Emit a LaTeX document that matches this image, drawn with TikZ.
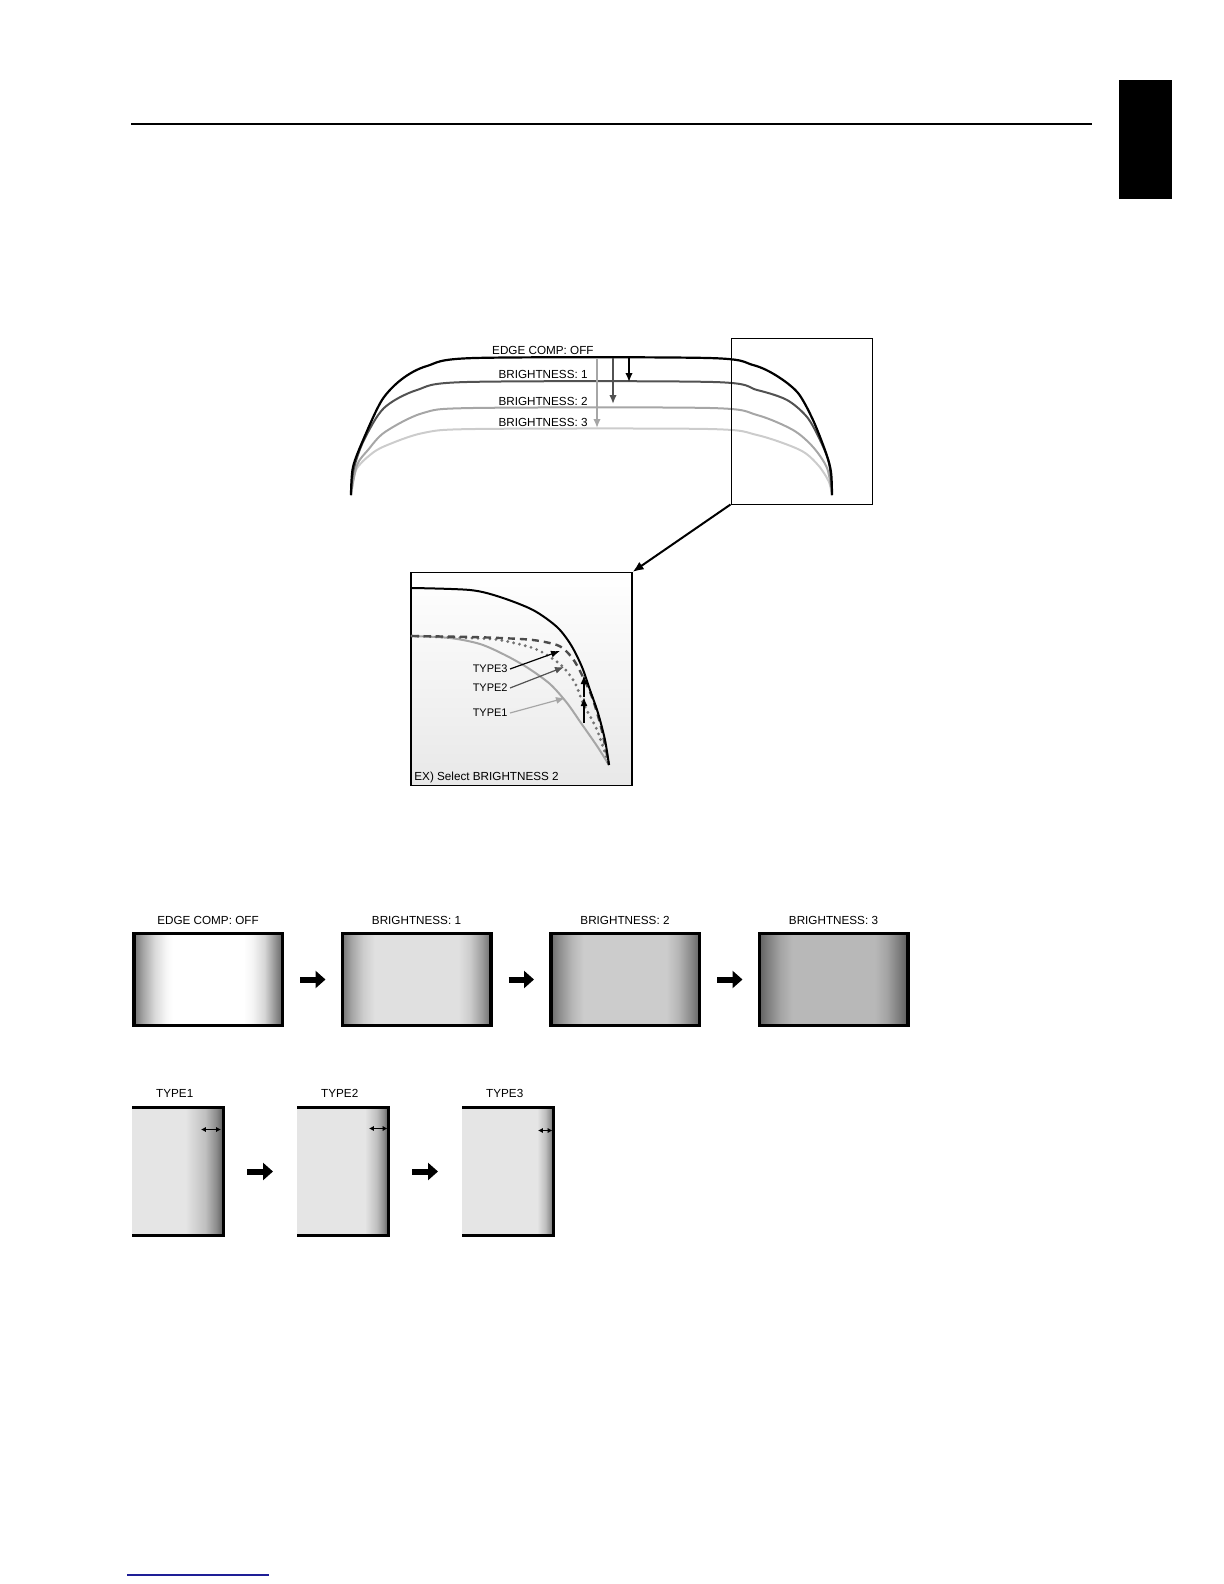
\documentclass[tikz,border=0pt]{standalone}
\usepackage{fontspec}
\setmainfont{Liberation Sans}
\usetikzlibrary{arrows.meta,positioning}
\definecolor{linkblue}{RGB}{30,30,150}
\colorlet{brightone}{black!68}
\colorlet{brighttwo}{black!35}
\colorlet{brightthree}{black!20}

\pgfdeclarehorizontalshading{edgeoff}{100bp}{color(0bp)=(black!56); color(25bp)=(black!56); color(28bp)=(black!36); color(32bp)=(black!15); color(36bp)=(black!3); color(38bp)=(white); color(62bp)=(white); color(65bp)=(black!4); color(69bp)=(black!16); color(72bp)=(black!38); color(75bp)=(black!60); color(100bp)=(black!60)}
\pgfdeclarehorizontalshading{brone}{100bp}{color(0bp)=(black!55); color(25bp)=(black!55); color(28bp)=(black!36); color(32bp)=(black!20); color(36bp)=(black!12); color(64bp)=(black!12); color(68bp)=(black!20); color(72bp)=(black!38); color(75bp)=(black!57); color(100bp)=(black!57)}
\pgfdeclarehorizontalshading{brtwo}{100bp}{color(0bp)=(black!58); color(25bp)=(black!58); color(28bp)=(black!44); color(32bp)=(black!29); color(36bp)=(black!20); color(64bp)=(black!20); color(68bp)=(black!29); color(72bp)=(black!45); color(75bp)=(black!60); color(100bp)=(black!60)}
\pgfdeclarehorizontalshading{brthree}{100bp}{color(0bp)=(black!62); color(25bp)=(black!62); color(28bp)=(black!50); color(32bp)=(black!36); color(36bp)=(black!28); color(64bp)=(black!28); color(68bp)=(black!36); color(72bp)=(black!51); color(75bp)=(black!64); color(100bp)=(black!64)}
\pgfdeclarehorizontalshading{typeone}{100bp}{color(0bp)=(black!10); color(54bp)=(black!10); color(65bp)=(black!25); color(71bp)=(black!45); color(75bp)=(black!65); color(100bp)=(black!65)}
\pgfdeclarehorizontalshading{typetwo}{100bp}{color(0bp)=(black!10); color(62bp)=(black!10); color(68.5bp)=(black!25); color(72.5bp)=(black!45); color(75bp)=(black!65); color(100bp)=(black!65)}
\pgfdeclarehorizontalshading{typethree}{100bp}{color(0bp)=(black!10); color(66bp)=(black!10); color(70.5bp)=(black!25); color(73.5bp)=(black!45); color(75bp)=(black!65); color(100bp)=(black!65)}

\begin{document}
\begin{tikzpicture}[
    x=0.5pt, y=-0.5pt,
    font=\fontsize{5.85}{7}\selectfont,
    curve/.style={line width=1pt},
    dropar/.style={line width=1pt, -{Latex[length=4.5pt,width=3.8pt]}},
    lab/.style={inner sep=1pt},
    zoomarr/.style={line width=1pt, -{Latex[length=5.5pt,width=4.5pt]}},
    tag/.style={font=\fontsize{5.5}{6.5}\selectfont, inner sep=1pt, anchor=east},
    tagar/.style={line width=0.6pt, -{Latex[length=4.5pt,width=3.5pt]}},
    scr/.style={draw, line width=1.75pt, minimum width=74.25pt, minimum height=46pt,
                inner sep=0pt, shade},
    typebox/.style={minimum width=45.75pt, minimum height=64pt, inner sep=0pt,
                outer sep=0pt, shade},
    frame/.style={line width=1.5pt},
    blockarr/.style={line width=3pt, -{Triangle[length=5pt,width=8.5pt]}},
    span/.style={line width=0.5pt, {Latex[length=2.4pt,width=2.6pt]}-{Latex[length=2.4pt,width=2.6pt]}}
  ]
  \useasboundingbox (0,0) rectangle (1224,1584);
  \draw[line width=0.6pt] (131,124) -- (1092,124);
  \fill (1119,80) rectangle (1172,199);
  \draw[linkblue, line width=0.6pt] (127,1575) -- (269,1575);

  \draw[curve, brightthree] plot[smooth] coordinates {(351,496) (356,470) (370,455) (385,446)
    (423,433) (475,429) (708,429) (757,435) (800,450) (818,465) (829,482) (832,496)};
  \draw[curve, brighttwo] plot[smooth] coordinates {(351,494) (357,465) (368,450) (385,432)
    (423,413) (473,408) (710,408) (757,415) (793,430) (813,447) (827,468) (832,494)};
  \draw[curve, brightone] plot[smooth] coordinates {(351,492) (354,468) (364,440) (384,408)
    (417,390) (467,382) (713,382) (757,390) (787,400) (807,417) (820,440) (829,463) (832,492)};
  \draw[curve, line width=1.1pt] plot[smooth] coordinates {(351,495) (353,467) (364,438)
    (382,400) (402,379) (427,366) (475,358) (708,358) (753,365) (777,376) (798,393)
    (813,420) (826,453) (831,472) (832,495)};

  \node[lab, anchor=east] (offlab) at (596,350) {EDGE COMP: OFF};
  \node[lab, anchor=east] (b1lab) at (590,374) {BRIGHTNESS: 1};
  \node[lab, anchor=east] (b2lab) at (590,401) {BRIGHTNESS: 2};
  \node[lab, anchor=east] (b3lab) at (590,422) {BRIGHTNESS: 3};
  \coordinate (offa) at (597,358);
  \coordinate (b3pt) at (597,428);
  \coordinate (offb) at (613,358);
  \coordinate (b2pt) at (613,404);
  \coordinate (offc) at (629,358);
  \coordinate (b1pt) at (629,382);
  \draw[dropar, brighttwo] (offa) -- (b3pt);
  \draw[dropar, brightone] (offb) -- (b2pt);
  \draw[dropar] (offc) -- (b1pt);

  \node[draw, line width=0.5pt, minimum width=70.5pt, minimum height=83pt, inner sep=0pt]
    (zoomwin) at (801.5,421) {};
  \node[draw, line width=0.6pt, shade, top color=white, bottom color=black!9,
    minimum width=110.5pt, minimum height=106.5pt, inner sep=0pt] (inset) at (521.5,679) {};
  \draw[zoomarr] (zoomwin.south west) -- (inset.north east);

  \draw[curve, brighttwo] plot[smooth] coordinates {(412,636) (450,638) (480,644) (505,655)
    (528,668) (550,684) (567,703) (581,723) (597,746) (609,765)};
  \draw[curve, black!55, line width=1.6pt, dash pattern=on 0pt off 3pt, line cap=round]
    plot[smooth] coordinates {(412,636) (470,638) (500,640) (533,648) (550,657) (563,667)
    (575,683) (583,703) (597,730) (609,765)};
  \draw[curve, black!70, line width=1.2pt, dash pattern=on 3.5pt off 2.5pt]
    plot[smooth] coordinates {(412,636) (470,637) (500,638) (533,640) (557,645) (567,652)
    (575,662) (583,677) (592,697) (600,723) (605,745) (609,765)};
  \draw[curve] plot[smooth] coordinates {(412,588) (470,590) (500,597) (533,610) (557,627)
    (571,645) (582,667) (590,690) (598,713) (605,740) (609,765)};

  \node[tag] (t3tag) at (510,669) {TYPE3};
  \node[tag] (t2tag) at (510,688) {TYPE2};
  \node[tag] (t1tag) at (510,713) {TYPE1};
  \coordinate (t3pt) at (560,651);
  \coordinate (t2pt) at (564,667);
  \coordinate (t1pt) at (565,698);
  \draw[tagar] (t3tag.east) -- (t3pt);
  \draw[tagar, brightone] (t2tag.east) -- (t2pt);
  \draw[tagar, brighttwo] (t1tag.east) -- (t1pt);
  \coordinate (vbot) at (584,723);
  \coordinate (vmid) at (584,697);
  \coordinate (vtop) at (584,675);
  \draw[tagar, line width=0.8pt] (vbot) -- (vmid);
  \draw[tagar, line width=0.8pt] (vmid) -- (vtop);
  \node[lab, anchor=base west] (exlab) at (412,780) {EX) Select BRIGHTNESS 2};

  \node[scr, shading=edgeoff] (off) at (208,979.5) {};
  \node[scr, shading=brone, right=28.25pt of off] (br1) {};
  \node[scr, shading=brtwo, right=28.25pt of br1] (br2) {};
  \node[scr, shading=brthree, right=28.25pt of br2] (br3) {};
  \node[lab, above=2.4pt of off] {EDGE COMP: OFF};
  \node[lab, above=2.4pt of br1] {BRIGHTNESS: 1};
  \node[lab, above=2.4pt of br2] {BRIGHTNESS: 2};
  \node[lab, above=2.4pt of br3] {BRIGHTNESS: 3};
  \draw[blockarr, shorten <=8pt, shorten >=7.5pt] (off) -- (br1);
  \draw[blockarr, shorten <=8pt, shorten >=7.5pt] (br1) -- (br2);
  \draw[blockarr, shorten <=8pt, shorten >=7.5pt] (br2) -- (br3);

  \node[typebox, shading=typeone] (t1) at (177.75,1171.5) {};
  \node[typebox, shading=typetwo, right=36.75pt of t1] (t2) {};
  \node[typebox, shading=typethree, right=36.75pt of t2] (t3) {};
  \draw[frame] (t1.north west) -- (t1.north east) -- (t1.south east) -- (t1.south west);
  \draw[frame] (t2.north west) -- (t2.north east) -- (t2.south east) -- (t2.south west);
  \draw[frame] (t3.north west) -- (t3.north east) -- (t3.south east) -- (t3.south west);
  \node[lab, above=3.6pt of t1, xshift=-1.5pt] {TYPE1};
  \node[lab, above=3.6pt of t2, xshift=-1.5pt] {TYPE2};
  \node[lab, above=3.6pt of t3, xshift=-1.5pt] {TYPE3};
  \draw[span] ([xshift=-11.25pt, yshift=-11pt]t1.north east) -- ([xshift=-1.25pt, yshift=-11pt]t1.north east);
  \draw[span] ([xshift=-9.75pt, yshift=-10.5pt]t2.north east) -- ([xshift=-0.5pt, yshift=-10.5pt]t2.north east);
  \draw[span] ([xshift=-7.75pt, yshift=-11.5pt]t3.north east) -- ([xshift=-0.5pt, yshift=-11.5pt]t3.north east);
  \draw[blockarr, shorten <=11.75pt, shorten >=12pt] (t1) -- (t2);
  \draw[blockarr, shorten <=11.75pt, shorten >=12pt] (t2) -- (t3);
\end{tikzpicture}
\end{document}
